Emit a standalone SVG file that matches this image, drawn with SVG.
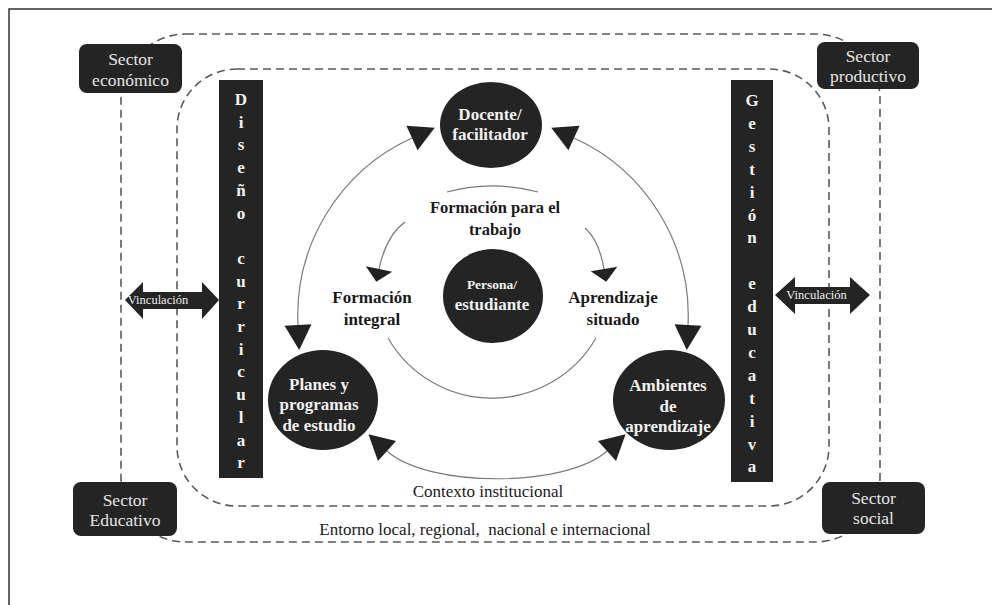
<svg xmlns="http://www.w3.org/2000/svg" width="992" height="605" viewBox="0 0 992 605">
<style>
text{font-family:'Liberation Serif','DejaVu Serif','Times New Roman',serif}
.dash{fill:none;stroke:#5a5a5a;stroke-width:1.6;stroke-dasharray:8 5}
.box{fill:#242424}
.stxt{font-size:17.5px;fill:#e4e4e4;text-anchor:middle}
.ctxt{font-size:17px;font-weight:bold;fill:#f2f2f2;text-anchor:middle}
.btxt{font-size:17px;font-weight:bold;fill:#f2f2f2;text-anchor:middle}
.ltxt{font-size:17px;font-weight:bold;fill:#1a1a1a;text-anchor:middle}
.rtxt{font-size:17px;fill:#1a1a1a;text-anchor:middle}
.vtxt{font-size:12.5px;fill:#eeeeee;text-anchor:middle}
.con{fill:none;stroke:#7a7a7a;stroke-width:1.2}
</style>
<defs>
<marker id="big" markerUnits="userSpaceOnUse" markerWidth="27" markerHeight="28" refX="0" refY="13.5" orient="auto-start-reverse" overflow="visible">
<path d="M0,0 L25,13.5 L0,27 Z" fill="#222"/>
</marker>
<marker id="small" markerUnits="userSpaceOnUse" markerWidth="15" markerHeight="28" refX="0" refY="13.5" orient="auto" overflow="visible">
<path d="M0,0 L13,13.5 L0,27 Z" fill="#222"/>
</marker>
</defs>
<rect x="0" y="0" width="992" height="605" fill="#ffffff"/>
<rect x="9" y="9" width="1000" height="700" fill="none" stroke="#333" stroke-width="1.5"/>

<g id="entornos">
<rect class="dash" x="121" y="34" width="759" height="508" rx="65" ry="65"/>
<rect class="dash" x="177" y="69" width="652" height="437" rx="60" ry="60"/>
<text class="rtxt" x="488" y="497">Contexto institucional</text>
<text class="rtxt" x="485" y="535" xml:space="preserve">Entorno local, regional,  nacional e internacional</text>
</g>

<g id="connectors">
<path class="con" d="M412,138 A195,195 0 0 0 298,325" marker-start="url(#big)" marker-end="url(#big)"/>
<path class="con" d="M574,138 A195,195 0 0 1 688,325" marker-start="url(#big)" marker-end="url(#big)"/>
<path class="con" d="M387,451 C428,488 566,488 607,451" marker-start="url(#big)" marker-end="url(#big)"/>
<path class="con" d="M447,192 A175,175 0 0 1 538,192"/>
<path class="con" d="M405,222 Q386,236 379,269" marker-end="url(#small)"/>
<path class="con" d="M585,228 Q599,240 604,269" marker-end="url(#small)"/>
<path class="con" d="M388,338 A120,120 0 0 0 596,338"/>
</g>

<g id="sector-economico">
<rect class="box" x="79" y="44" width="103" height="49" rx="8"/>
<text class="stxt" x="130.5" y="65">Sector</text>
<text class="stxt" x="130.5" y="86">económico</text>
</g>
<g id="sector-productivo">
<rect class="box" x="817" y="42" width="102" height="47" rx="8"/>
<text class="stxt" x="868" y="62">Sector</text>
<text class="stxt" x="868" y="82">productivo</text>
</g>
<g id="sector-educativo">
<rect class="box" x="73" y="482" width="104" height="54" rx="8"/>
<text class="stxt" x="125" y="506">Sector</text>
<text class="stxt" x="125" y="526">Educativo</text>
</g>
<g id="sector-social">
<rect class="box" x="822" y="482" width="103" height="52" rx="8"/>
<text class="stxt" x="873.5" y="504">Sector</text>
<text class="stxt" x="873.5" y="524">social</text>
</g>

<g id="vinculacion-izq">
<polygon class="box" points="125,300 143,282 143,292 202,292 202,282 219,300 202,319 202,309 143,309 143,319"/>
<text class="vtxt" x="158" y="304">Vinculación</text>
</g>
<g id="vinculacion-der">
<polygon class="box" points="775,295 795,277 795,287 850,287 850,277 870,295 850,314 850,304 795,304 795,314"/>
<text class="vtxt" x="816.5" y="299">Vinculación</text>
</g>

<g id="diseno-curricular">
<rect class="box" x="219" y="80" width="44" height="398"/>
<text class="btxt"><tspan x="241" y="105">D</tspan><tspan x="241" y="127.7">i</tspan><tspan x="241" y="150.4">s</tspan><tspan x="241" y="173.1">e</tspan><tspan x="241" y="195.8">ñ</tspan><tspan x="241" y="218.5">o</tspan><tspan x="241" y="263.9">c</tspan><tspan x="241" y="286.6">u</tspan><tspan x="241" y="309.3">r</tspan><tspan x="241" y="332">r</tspan><tspan x="241" y="354.7">i</tspan><tspan x="241" y="377.4">c</tspan><tspan x="241" y="400.1">u</tspan><tspan x="241" y="422.8">l</tspan><tspan x="241" y="445.5">a</tspan><tspan x="241" y="468.2">r</tspan></text>
</g>
<g id="gestion-educativa">
<rect class="box" x="731" y="80" width="42" height="402"/>
<text class="btxt"><tspan x="752" y="106">G</tspan><tspan x="752" y="128.9">e</tspan><tspan x="752" y="151.8">s</tspan><tspan x="752" y="174.7">t</tspan><tspan x="752" y="197.6">i</tspan><tspan x="752" y="220.5">ó</tspan><tspan x="752" y="243.4">n</tspan><tspan x="752" y="289.2">e</tspan><tspan x="752" y="312.1">d</tspan><tspan x="752" y="335">u</tspan><tspan x="752" y="357.9">c</tspan><tspan x="752" y="380.8">a</tspan><tspan x="752" y="403.7">t</tspan><tspan x="752" y="426.6">i</tspan><tspan x="752" y="449.5">v</tspan><tspan x="752" y="472.4">a</tspan></text>
</g>

<g id="docente">
<ellipse class="box" cx="491" cy="125" rx="51" ry="43"/>
<text class="ctxt" x="490" y="120">Docente/</text>
<text class="ctxt" x="490" y="140">facilitador</text>
</g>
<g id="persona">
<ellipse class="box" cx="493" cy="296" rx="50" ry="47"/>
<text class="ctxt" x="492" y="289" style="font-size:13.5px">Persona/</text>
<text class="ctxt" x="492" y="310">estudiante</text>
</g>
<g id="planes">
<ellipse class="box" cx="323" cy="400" rx="55" ry="50"/>
<text class="ctxt" x="319" y="390">Planes y</text>
<text class="ctxt" x="319" y="410">programas</text>
<text class="ctxt" x="319" y="431">de estudio</text>
</g>
<g id="ambientes">
<ellipse class="box" cx="669" cy="400" rx="56" ry="50"/>
<text class="ctxt" x="668" y="391">Ambientes</text>
<text class="ctxt" x="668" y="412">de</text>
<text class="ctxt" x="668" y="432">aprendizaje</text>
</g>

<g id="labels">
<text class="ltxt" x="495" y="213" style="font-size:16.5px">Formación para el</text>
<text class="ltxt" x="495" y="235" style="font-size:16.5px">trabajo</text>
<text class="ltxt" x="372" y="303">Formación</text>
<text class="ltxt" x="372" y="325">integral</text>
<text class="ltxt" x="613" y="303">Aprendizaje</text>
<text class="ltxt" x="613" y="325">situado</text>
</g>
</svg>
